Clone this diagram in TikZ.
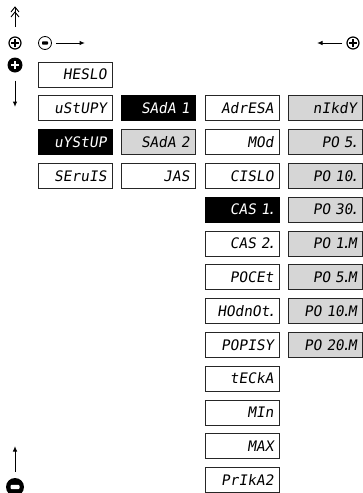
\documentclass[tikz,border=0pt]{standalone}
\usepackage{fontspec}
\newfontfamily\segfont[FakeSlant=0.15]{DejaVu Sans Mono}
\usetikzlibrary{arrows.meta}
% narrow decimal point, as on a segment display
\newcommand\dpt{\kern-0.17em.\kern-0.17em}

\tikzset{
  disp/.style={draw=black!85, line width=0.7pt, minimum height=25pt,
    text width=63pt, inner xsep=5.5pt, inner ysep=0pt, align=right,
    text height=10.5pt, text depth=0pt,
    font=\segfont\fontsize{14.5}{14.5}\selectfont},
  dispw/.style={disp, fill=white, text=black},
  dispb/.style={disp, fill=black, draw=black, text=white},
  dispg/.style={disp, fill=black!16, text=black},
  keyarrow/.style={line width=1pt, -{Latex[length=5.5pt,width=4.5pt]}},
  ringkey/.style={circle, draw, inner sep=0pt},
  solidkey/.style={circle, fill=black, inner sep=0pt},
}

\begin{document}
\begin{tikzpicture}[x=1pt, y=-1pt]
\useasboundingbox (0,0) rectangle (363,493);

% ---- key legend ----
\coordinate (dbltop) at (15,7);
\coordinate (dblbot) at (15,27);
\draw[line width=0.9pt] (dblbot) -- (dbltop);
\draw[line width=0.9pt] (11,12) -- (dbltop) -- (19,12);
\draw[line width=0.9pt] (11,17) -- (15,12) -- (19,17);

\node[ringkey, line width=1.2pt, minimum size=12pt] (plusA) at (15,43) {};
\draw[line width=2pt] ([xshift=-4pt]plusA.center) -- ([xshift=4pt]plusA.center);
\draw[line width=2pt] ([yshift=-4pt]plusA.center) -- ([yshift=4pt]plusA.center);

\node[ringkey, line width=0.8pt, minimum size=13pt] (minusA) at (45,43) {};
\fill[rounded corners=0.8pt] ([shift={(-3pt,-1.6pt)}]minusA.center) rectangle ([shift={(3pt,1.6pt)}]minusA.center);
\coordinate (rarrow) at (85,43);
\draw[keyarrow] ([xshift=4pt]minusA.east) -- (rarrow);

\node[ringkey, line width=1.2pt, minimum size=12pt] (plusB) at (353,43) {};
\draw[line width=2pt] ([xshift=-4pt]plusB.center) -- ([xshift=4pt]plusB.center);
\draw[line width=2pt] ([yshift=-4pt]plusB.center) -- ([yshift=4pt]plusB.center);
\coordinate (larrow) at (317,43);
\draw[keyarrow] ([xshift=-4pt]plusB.west) -- (larrow);

\node[solidkey, minimum size=15pt] (bplus) at (15,65) {};
\draw[white, line width=2.6pt] ([xshift=-4.2pt]bplus.center) -- ([xshift=4.2pt]bplus.center);
\draw[white, line width=2.6pt] ([yshift=-4.2pt]bplus.center) -- ([yshift=4.2pt]bplus.center);
\coordinate (downend) at (15,107);
\draw[keyarrow] ([yshift=-8pt]bplus.south) -- (downend);

\node[solidkey, minimum size=18pt] (bminus) at (15,487) {};
\fill[white, rounded corners=1pt] ([shift={(-4.5pt,-2.2pt)}]bminus.center) rectangle ([shift={(4.5pt,2.2pt)}]bminus.center);
\coordinate (upend) at (15,446);
\draw[keyarrow] ([yshift=6pt]bminus.north) -- (upend);

% ---- column 1 ----
\node[dispw] (heslo)  at (75,74.5)  {HESLO};
\node[dispw] (vstupy) at (75,108.3) {uStUPY};
\node[dispb] (vystup) at (75,142.1) {uYStUP};
\node[dispw] (servis) at (75,175.9) {SEruIS};

% ---- column 2 ----
\node[dispb] (sada1) at (158,108.3) {SAdA 1};
\node[dispg] (sada2) at (158,142.1) {SAdA 2};
\node[dispw] (jas)   at (158,175.9) {JAS};

% ---- column 3 ----
\node[dispw] (adresa) at (242,108.3) {AdrESA};
\node[dispw] (mod)    at (242,142.1) {MOd};
\node[dispw] (cislo)  at (242,175.9) {CISLO};
\node[dispb] (cas1)   at (242,209.7) {CAS 1\dpt};
\node[dispw] (cas2)   at (242,243.5) {CAS 2\dpt};
\node[dispw] (pocet)  at (242,277.3) {POCEt};
\node[dispw] (hodnot) at (242,311.1) {HOdnOt\dpt};
\node[dispw] (popisy) at (242,344.9) {POPISY};
\node[dispw] (tecka)  at (242,378.7) {tECkA};
\node[dispw] (min)    at (242,412.5) {MIn};
\node[dispw] (max)    at (242,446.3) {MAX};
\node[dispw] (prikaz) at (242,480.1) {PrIkA2};

% ---- column 4 ----
\node[dispg] (nikdy) at (325,108.3) {nIkdY};
\node[dispg] (po5)   at (325,142.1) {PO 5\dpt};
\node[dispg] (po10)  at (325,175.9) {PO 10\dpt};
\node[dispg] (po30)  at (325,209.7) {PO 30\dpt};
\node[dispg] (po1m)  at (325,243.5) {PO 1\dpt M};
\node[dispg] (po5m)  at (325,277.3) {PO 5\dpt M};
\node[dispg] (po10m) at (325,311.1) {PO 10\dpt M};
\node[dispg] (po20m) at (325,344.9) {PO 20\dpt M};
\end{tikzpicture}
\end{document}
